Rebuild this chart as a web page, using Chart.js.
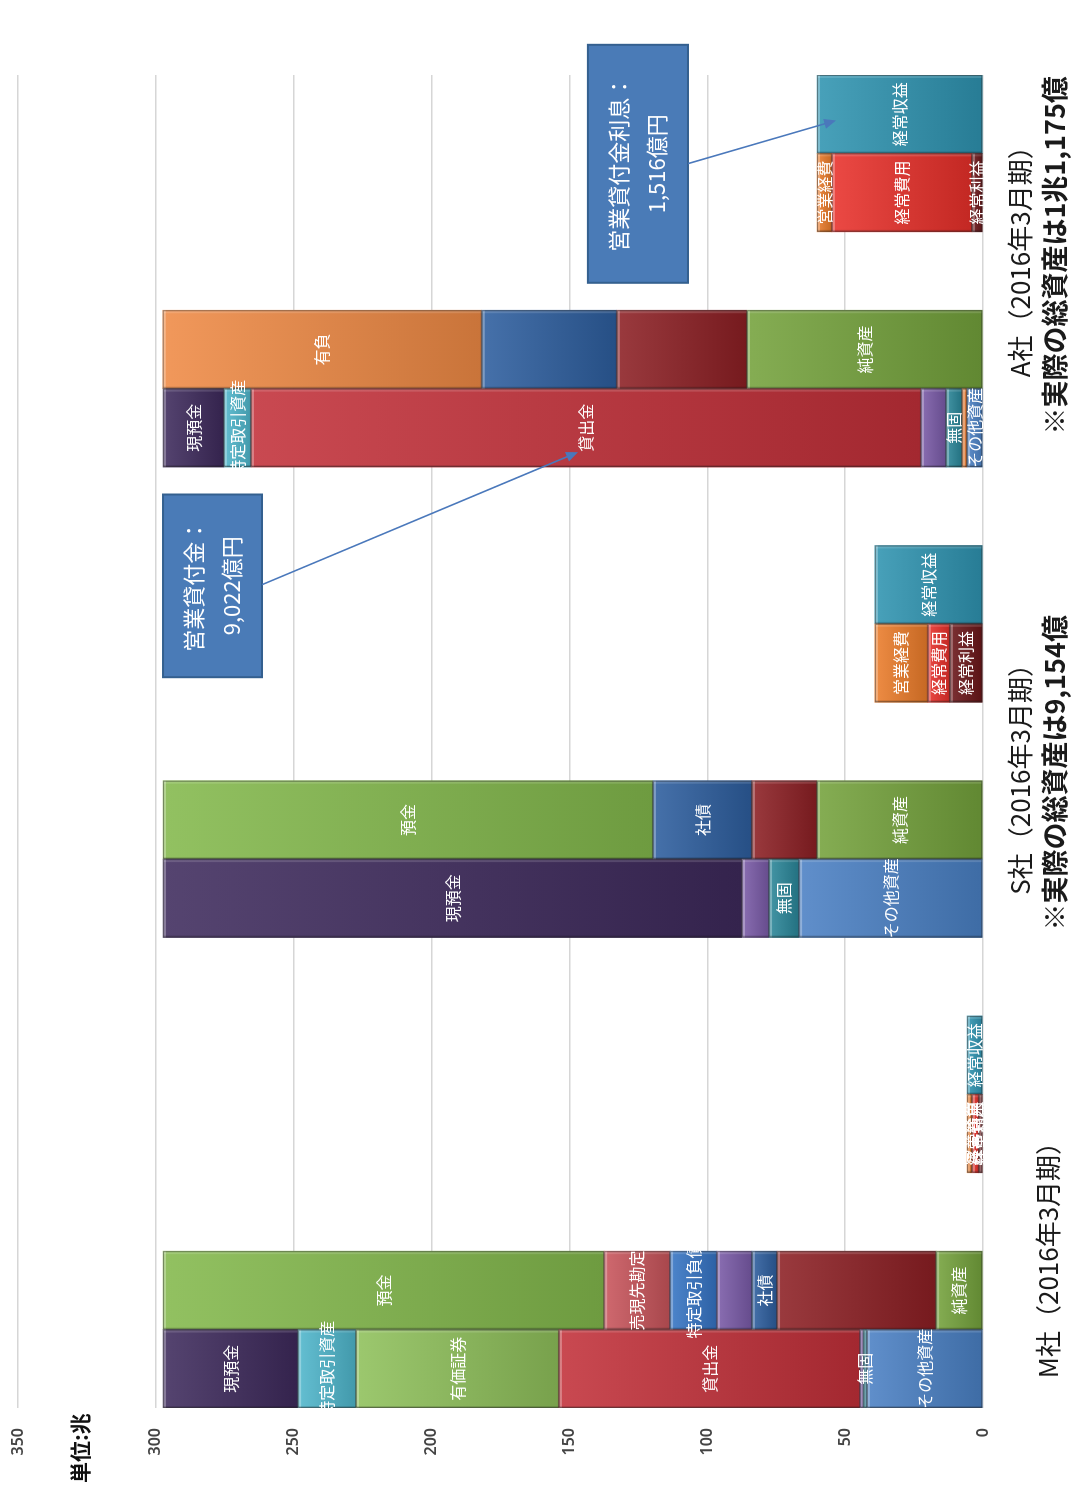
<!DOCTYPE html>
<html lang="ja">
<head>
<meta charset="utf-8">
<title>資産・負債と損益の比較</title>
<script src="https://cdn.jsdelivr.net/npm/chart.js@4.4.1/dist/chart.umd.min.js"></script>
<style>
  html, body { margin: 0; padding: 0; background: #fff; overflow: hidden; }
  /* the chart is laid out landscape and turned a quarter to the left */
  #wrap {
    position: absolute; left: 0; top: 0;
    width: 1487px; height: 1073px;
    transform-origin: 0 0;
    transform: translate(0, 1487px) rotate(-90deg);
  }
</style>
</head>
<body>
<div id="wrap"><canvas id="balanceChart" width="1487" height="1073"></canvas></div>
<script>
// companies from left to right
const companies = ['M社（2016年3月期）', 'S社（2016年3月期）', 'A社（2016年3月期）'];
const companyNotes = ['', '※実際の総資産は9,154億', '※実際の総資産は1兆1,175億'];
const valueTicks = [0, 50, 100, 150, 200, 250, 300, 350];

// assets, bottom to top (兆; S and A scaled to the same total as M)
const otherAssets = [42.1, 66.7, 5.8];
const deferredTax = [null, null, 1.8];
const intangibles = [1.2, 10.9, 5.8];
const tangibles = [1.3, 9.8, 9.1];
const loans = [109.2, null, 243.0];
const securities = [73.6, null, null];
const tradingAssets = [21.0, null, 9.8];
const cash = [49.0, 210.0, 22.1];

// liabilities and net assets, bottom to top
const netAssets = [17.0, 60.2, 85.6];
const otherLiabs = [57.7, 23.6, 47.2];
const borrowings = [null, null, 49.0];
const bonds = [9.1, 35.9, null];
const callMoney = [12.7, null, null];
const tradingLiabs = [17.0, null, null];
const repos = [23.9, null, null];
const deposits = [160.0, 177.7, null];
const interestDebt = [null, null, 115.7];

// profit and loss
const ordinaryProfit = [1.5, 12.0, 4.0];
const ordinaryExpenses = [2.5, 8.0, 50.8];
const operatingExpenses = [1.8, 19.2, 5.4];
const ordinaryIncome = [5.8, 39.2, 60.2];

// bar: 0 = assets, 1 = liabilities, 3 = expenses + profit, 4 = income (2 and 5 stay empty)
const segments = [
  { name: 'その他資産', values: otherAssets, bar: 0, color: '#4a80c4' },
  { name: '繰延税金資産', values: deferredTax, bar: 0, color: '#ed7d31', quiet: true },
  { name: '無固', values: intangibles, bar: 0, color: '#2a8799' },
  { name: '有固', values: tangibles, bar: 0, color: '#7a5aa8', quiet: true },
  { name: '貸出金', values: loans, bar: 0, color: '#c23039' },
  { name: '有価証券', values: securities, bar: 0, color: '#8fc05a' },
  { name: '特定取引資産', values: tradingAssets, bar: 0, color: '#4fb6cc' },
  { name: '現預金', values: cash, bar: 0, color: '#3e2a5c' },
  { name: '純資産', values: netAssets, bar: 1, color: '#74a23c' },
  { name: 'その他負債', values: otherLiabs, bar: 1, color: '#8c1f24', quiet: true },
  { name: '借入金', values: borrowings, bar: 1, color: '#2d5e9e', quiet: true },
  { name: '社債', values: bonds, bar: 1, color: '#2d5e9e' },
  { name: 'コールマネー', values: callMoney, bar: 1, color: '#7a5aa8', quiet: true },
  { name: '特定取引負債', values: tradingLiabs, bar: 1, color: '#3574c4' },
  { name: '売現先勘定', values: repos, bar: 1, color: '#c8545b' },
  { name: '預金', values: deposits, bar: 1, color: '#83b94c' },
  { name: '有負', values: interestDebt, bar: 1, color: '#ef8a45' },
  { name: '経常利益', values: ordinaryProfit, bar: 3, color: '#6a1518' },
  { name: '経常費用', values: ordinaryExpenses, bar: 3, color: '#e8302a' },
  { name: '営業経費', values: operatingExpenses, bar: 3, color: '#ec7c2a' },
  { name: '経常収益', values: ordinaryIncome, bar: 4, color: '#2f94b1' }
];

// where the company captions and the callouts sit (x in slot index, y in 兆)
const captionSlot = [1.47, 7.6, 14.2];
const callouts = [
  { lines: ['営業貸付金：', '9,022億円'], box: [8.82, 11.15, 297.4, 261.5], from: [10.0, 261.5], to: [11.69, 146.9] },
  { lines: ['営業貸付金利息：', '1,516億円'], box: [13.85, 16.885, 143.3, 107.0], from: [15.37, 107.0], to: [15.92, 53.3] }
];

const SLOTS = 6;
const slotCount = companies.length * SLOTS - 1;
const slotLabels = Array.from({ length: slotCount }, (_, i) => companies[Math.floor(i / SLOTS)]);

function mix (hex, other, t) {
  const a = parseInt(hex.slice(1), 16);
  const b = parseInt(other.slice(1), 16);
  const out = [16, 8, 0].map(s => {
    const p = (a >> s) & 255;
    const q = (b >> s) & 255;
    return Math.round(p + (q - p) * t);
  });
  return 'rgb(' + out.join(',') + ')';
}

// light at the top of each piece, darker at its foot
function shade (ctx) {
  const ds = ctx.dataset;
  const r = ds.ranges && ds.ranges[ctx.dataIndex];
  const y = ctx.chart.scales && ctx.chart.scales.y;
  if (!r || !y) return ds.baseColor;
  const top = y.getPixelForValue(r[1]);
  const bottom = y.getPixelForValue(r[0]);
  if (!isFinite(top) || !isFinite(bottom) || top === bottom) return ds.baseColor;
  const g = ctx.chart.ctx.createLinearGradient(0, top, 0, bottom);
  g.addColorStop(0, mix(ds.baseColor, '#ffffff', 0.12));
  g.addColorStop(1, mix(ds.baseColor, '#000000', 0.16));
  return g;
}

const stackTop = new Array(slotCount).fill(0);
const datasets = segments.map(seg => {
  const data = new Array(slotCount).fill(null);
  const ranges = new Array(slotCount).fill(null);
  seg.values.forEach((v, i) => {
    if (v == null) return;
    const slot = i * SLOTS + seg.bar;
    data[slot] = v;
    ranges[slot] = [stackTop[slot], stackTop[slot] + v];
    stackTop[slot] += v;
  });
  return {
    label: seg.name,
    data,
    ranges,
    baseColor: seg.color,
    quiet: !!seg.quiet,
    backgroundColor: shade,
    borderWidth: 0
  };
});

function eachPiece (chart, fn) {
  chart.data.datasets.forEach((ds, di) => {
    chart.getDatasetMeta(di).data.forEach((el, i) => {
      if (ds.data[i] == null) return;
      const p = el.getProps(['x', 'y', 'base', 'width'], true);
      fn(ds, p);
    });
  });
}

// bevelled edges and thin outline
const bevel = {
  id: 'bevel',
  afterDatasetsDraw (chart) {
    const c = chart.ctx;
    c.save();
    eachPiece(chart, (ds, p) => {
      const l = p.x - p.width / 2;
      const t = Math.min(p.y, p.base);
      const h = Math.abs(p.base - p.y);
      if (h < 0.5) return;
      c.fillStyle = 'rgba(255,255,255,0.30)';
      c.fillRect(l, t, p.width, Math.min(3, h));
      c.fillStyle = 'rgba(255,255,255,0.14)';
      c.fillRect(l + p.width - 3, t, 3, h);
      c.fillStyle = 'rgba(0,0,0,0.14)';
      c.fillRect(l, t, 2, h);
      c.strokeStyle = 'rgba(40,40,40,0.45)';
      c.lineWidth = 1;
      c.strokeRect(l + 0.5, t + 0.5, p.width - 1, Math.max(h - 1, 0));
    });
    c.restore();
  }
};

const segmentLabels = {
  id: 'segmentLabels',
  afterDatasetsDraw (chart) {
    const c = chart.ctx;
    c.save();
    c.font = '16px "Noto Sans CJK JP"';
    c.fillStyle = '#ffffff';
    c.textAlign = 'center';
    c.textBaseline = 'middle';
    eachPiece(chart, (ds, p) => {
      if (ds.quiet) return;
      c.fillText(ds.label, p.x, (p.y + p.base) / 2);
    });
    c.restore();
  }
};

const notes = {
  id: 'notes',
  afterDraw (chart) {
    const c = chart.ctx;
    const xs = chart.scales.x;
    const ys = chart.scales.y;
    c.save();

    c.fillStyle = '#111';
    c.font = 'bold 21px "Noto Sans CJK JP"';
    c.textAlign = 'left';
    c.textBaseline = 'middle';
    c.fillText('単位:兆', 4, 80);

    c.textAlign = 'center';
    companies.forEach((name, i) => {
      const x = xs.getPixelForValue(captionSlot[i]);
      c.fillStyle = '#1a1a1a';
      if (companyNotes[i]) {
        c.font = '26px "Noto Sans CJK JP"';
        c.fillText(name, x, 1020);
        c.font = 'bold 27px "Noto Sans CJK JP"';
        c.fillText(companyNotes[i], x, 1055);
      } else {
        c.font = '26px "Noto Sans CJK JP"';
        c.fillText(name, x, 1048);
      }
    });

    callouts.forEach(co => {
      const l = xs.getPixelForValue(co.box[0]);
      const r = xs.getPixelForValue(co.box[1]);
      const t = ys.getPixelForValue(co.box[2]);
      const b = ys.getPixelForValue(co.box[3]);
      c.fillStyle = '#4a7bb7';
      c.fillRect(l, t, r - l, b - t);
      c.strokeStyle = '#34608f';
      c.lineWidth = 2;
      c.strokeRect(l, t, r - l, b - t);
      c.fillStyle = '#ffffff';
      c.font = '22px "Noto Sans CJK JP"';
      const mid = (t + b) / 2;
      c.fillText(co.lines[0], (l + r) / 2, mid - 19);
      c.fillText(co.lines[1], (l + r) / 2, mid + 19);

      const x0 = xs.getPixelForValue(co.from[0]);
      const y0 = ys.getPixelForValue(co.from[1]);
      const x1 = xs.getPixelForValue(co.to[0]);
      const y1 = ys.getPixelForValue(co.to[1]);
      const ang = Math.atan2(y1 - y0, x1 - x0);
      c.strokeStyle = '#4a78bb';
      c.lineWidth = 1.6;
      c.beginPath();
      c.moveTo(x0, y0);
      c.lineTo(x1 - Math.cos(ang) * 8, y1 - Math.sin(ang) * 8);
      c.stroke();
      c.fillStyle = '#4a78bb';
      c.beginPath();
      c.moveTo(x1, y1);
      c.lineTo(x1 - Math.cos(ang - 0.4) * 13, y1 - Math.sin(ang - 0.4) * 13);
      c.lineTo(x1 - Math.cos(ang + 0.4) * 13, y1 - Math.sin(ang + 0.4) * 13);
      c.closePath();
      c.fill();
    });
    c.restore();
  }
};

const balanceChart = new Chart(document.getElementById('balanceChart'), {
  type: 'bar',
  data: { labels: slotLabels, datasets },
  options: {
    responsive: false,
    animation: false,
    devicePixelRatio: 1,
    layout: { padding: { top: 18, right: 75, bottom: 90, left: 0 } },
    datasets: { bar: { barPercentage: 1, categoryPercentage: 1 } },
    plugins: { legend: { display: false }, tooltip: { enabled: false } },
    scales: {
      x: { stacked: true, display: false },
      y: {
        stacked: true,
        min: 0,
        max: 350,
        afterFit (s) {
          // fixed gutter for the tick labels; the outer padding keeps the rest
          s.width = 79;
          s.paddingTop = 0;
          s.paddingBottom = 0;
        },
        afterBuildTicks (s) { s.ticks = valueTicks.map(v => ({ value: v })); },
        border: { display: false },
        grid: { color: '#d6d6d6', lineWidth: 1.5, drawTicks: false },
        ticks: {
          padding: 20,
          color: '#444',
          font: { family: '"Noto Sans"', size: 16, weight: '600' }
        }
      }
    }
  },
  plugins: [bevel, segmentLabels, notes]
});
</script>
</body>
</html>
